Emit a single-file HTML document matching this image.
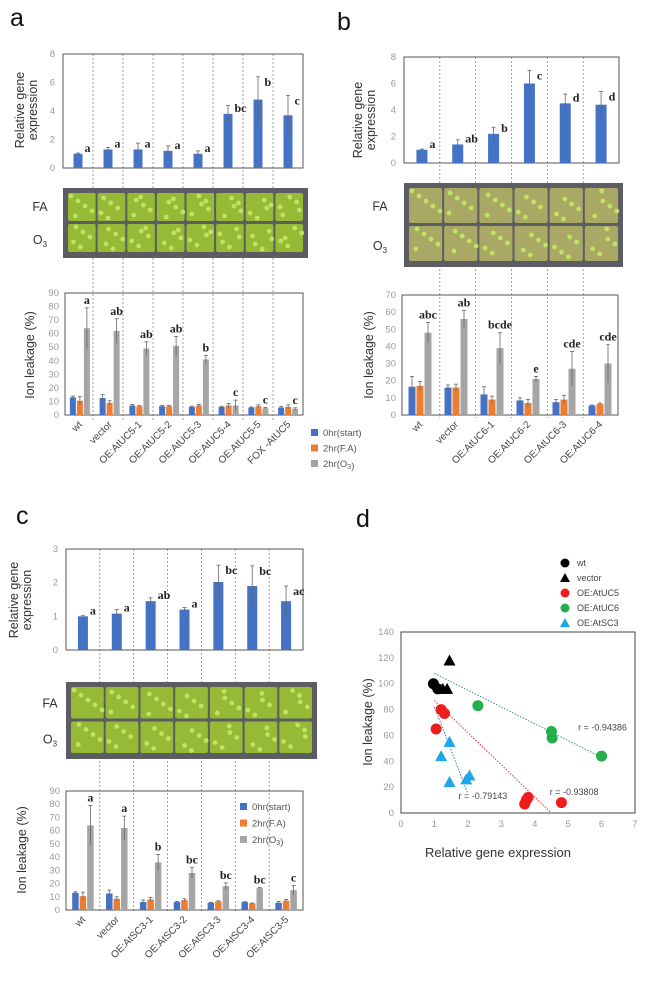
<!DOCTYPE html>
<html><head><meta charset="utf-8">
<style>
html,body{margin:0;padding:0;background:#fff;}
svg{display:block;font-family:"Liberation Sans",sans-serif;}
.tick{fill:#9a9a9a;font-size:9.5px;}
.ttl{fill:#333;font-size:12.5px;}
.lbl{fill:#444;font-size:10px;}
.let{fill:#222;font-size:12px;font-weight:bold;font-family:"Liberation Serif",serif;}
.pan{fill:#111;font-size:25px;}
</style></head>
<body>
<svg id="fig" width="652" height="983" viewBox="0 0 652 983" xmlns="http://www.w3.org/2000/svg">
<text class="pan" x="10" y="26">a</text>
<text class="pan" x="337" y="30">b</text>
<text class="pan" x="16" y="524">c</text>
<text class="pan" x="356" y="527">d</text>
<g id="layer"></g>
</svg>
<script>
// ---- Panel a data ----
const aCats = ["wt","vector","OE:AtUC5-1","OE:AtUC5-2","OE:AtUC5-3","OE:AtUC5-4","OE:AtUC5-5","FOX -AtUC5"];
const aExpr = [1.0,1.3,1.3,1.2,1.0,3.8,4.8,3.7];
const aExprErr = [0.05,0.15,0.45,0.35,0.2,0.6,1.6,1.4];
const aExprLet = ["a","a","a","a","a","bc","b","c"];
const aIon0 = [13,12.5,7,6.5,6,6,5.5,5.5];
const aIonFA = [10.5,9,6.5,6.5,7,7,6.5,6];
const aIonO3 = [64,62,49,51,41,7,5,4.5];
const aErr0 = [1,2.5,0.8,0.5,0.5,0.5,0.4,0.8];
const aErrFA = [3,1.5,0.5,0.5,0.8,1.5,1,1.5];
const aErrO3 = [15,9,5,7,3,4,0.5,0.8];
const aIonLet = ["a","ab","ab","ab","b","c","c","c"];
// ---- Panel b data ----
const bCats = ["wt","vector","OE:AtUC6-1","OE:AtUC6-2","OE:AtUC6-3","OE:AtUC6-4"];
const bExpr = [1.0,1.4,2.2,6.0,4.5,4.4];
const bExprErr = [0.05,0.35,0.5,1.0,0.7,1.0];
const bExprLet = ["a","ab","b","c","d","d"];
const bIon0 = [16.5,16,12,8.5,7.5,5.5];
const bIonFA = [17,16,9,7,9,6.5];
const bIonO3 = [48,56,39,21,27,30];
const bErr0 = [6,1.5,4.5,1.5,1.5,0.3];
const bErrFA = [2.5,2,2,2,2.5,0.5];
const bErrO3 = [6,5,9,1.5,10,11];
const bIonLet = ["abc","ab","bcde","e","cde","cde"];
// ---- Panel c data ----
const cCats = ["wt","vector","OE:AtSC3-1","OE:AtSC3-2","OE:AtSC3-3","OE:AtSC3-4","OE:AtSC3-5"];
const cExpr = [1.0,1.08,1.45,1.2,2.02,1.9,1.45];
const cExprErr = [0.02,0.12,0.1,0.06,0.5,0.6,0.45];
const cExprLet = ["a","a","ab","a","bc","bc","ac"];
const cIon0 = [13,12.5,6,6,5.5,6,5.5];
const cIonFA = [10.5,8.5,8,7.5,6.5,5,7];
const cIonO3 = [64,62,36,28,18,16.5,15];
const cErr0 = [0.8,2.5,1.5,0.5,0.3,0.3,1];
const cErrFA = [3,1.5,1.5,1,0.5,0.3,1];
const cErrO3 = [15,9,6,4,2.5,0.5,3.5];
const cIonLet = ["a","a","b","bc","bc","bc","c"];
// ---- Panel d data ----
const dWtX = [0.97,1.1]; const dWtY = [100,96];
const dVecX = [1.45,1.25,1.38]; const dVecY = [118,96,96];
const dUC5X = [1.2,1.3,1.05,3.7,3.8,3.75,4.8]; const dUC5Y = [80,77,65,7,12,10,8];
const dUC6X = [2.3,4.5,4.52,6.0]; const dUC6Y = [83,63,58,44];
const dSC3X = [1.45,1.2,1.45,1.95,2.05]; const dSC3Y = [55,44,24,26,29];
const dFitUC6 = [1,108,6,43]; const dFitUC5 = [1,87,4.5,0]; const dFitSC3 = [1,82,2,15];
const dR = ["r = -0.94386","r = -0.93808","r = -0.79143"];

const NS="http://www.w3.org/2000/svg";
const L=document.getElementById('layer');
function mk(t,a,p){const e=document.createElementNS(NS,t);for(const k in a)e.setAttribute(k,a[k]);(p||L).appendChild(e);return e;}
const BLUE="#4472c4",ORANGE="#ed7d31",GRAY="#a5a5a5";

function exprChart(cfg,vals,errs,lets){
  const {x0,x1,y0,y1,max,step,name}=cfg;
  const g=mk('g',{});  
  const n=vals.length, gw=(x1-x0)/n;
  const ys=v=>y1-(v/max)*(y1-y0);
  mk('rect',{x:x0,y:y0,width:x1-x0,height:y1-y0,fill:'none',stroke:'#555','stroke-width':1},g);
  for(let t=0;t<=max;t+=step){const tx=mk('text',{x:x0-8,y:ys(t)+3,'text-anchor':'end',class:'tick'},g);tx.textContent=t;}
  vals.forEach((v,i)=>{
    const cx=x0+gw*(i+0.5), bw=cfg.bw;
    const r=mk('rect',{x:cx-bw/2,y:ys(v),width:bw,height:ys(0)-ys(v),fill:BLUE},g);
     
    const e=errs[i];
    mk('line',{x1:cx,x2:cx,y1:ys(v-e),y2:ys(v+e),stroke:'#666','stroke-width':0.8},g);
    mk('line',{x1:cx-2,x2:cx+2,y1:ys(v+e),y2:ys(v+e),stroke:'#666','stroke-width':0.8},g);
    const t=mk('text',{x:cx+bw/2+2,y:Math.min(ys(v+e)+9,ys(v)-2),class:'let'},g); t.textContent=lets[i];
  });
}
function ionChart(cfg,s0,s1,s2,e0,e1,e2,lets,cats){
  const {x0,x1,y0,y1,max,step,name}=cfg;
  const g=mk('g',{});  
  const n=s0.length, gw=(x1-x0)/n;
  const ys=v=>y1-(v/max)*(y1-y0);
  mk('rect',{x:x0,y:y0,width:x1-x0,height:y1-y0,fill:'none',stroke:'#555','stroke-width':1},g);
  for(let t=0;t<=max;t+=step){const tx=mk('text',{x:x0-6,y:ys(t)+3,'text-anchor':'end',class:'tick'},g);tx.textContent=t;}
  const series=[[s0,e0,BLUE],[s1,e1,ORANGE],[s2,e2,GRAY]];
  for(let i=0;i<n;i++){
    const cx=x0+gw*(i+0.5), bw=cfg.bw, gap=1;
    series.forEach((s,k)=>{
      const v=s[0][i], e=s[1][i], bx=cx+(k-1)*(bw+gap);
      const r=mk('rect',{x:bx-bw/2,y:ys(v),width:bw,height:ys(0)-ys(v),fill:s[2]},g);
       
      mk('line',{x1:bx,x2:bx,y1:ys(Math.max(0,v-e)),y2:ys(v+e),stroke:'#666','stroke-width':0.8},g);
      mk('line',{x1:bx-2,x2:bx+2,y1:ys(v+e),y2:ys(v+e),stroke:'#666','stroke-width':0.8},g);
      if(k==2){const t=mk('text',{x:bx,y:ys(v+e)-4,'text-anchor':'middle',class:'let'},g);t.textContent=lets[i];}
    });
    const lx=cx+3, ly=y1+10;
    const t=mk('text',{x:lx,y:ly,'text-anchor':'end',class:'lbl',transform:`rotate(-45 ${lx} ${ly})`},g);
    t.textContent=cats[i];
     
  }
}
function dashes(x0,x1,n,ya,yb){
  const gw=(x1-x0)/n;
  for(let i=1;i<n;i++){const l=mk('line',{x1:x0+gw*i,x2:x0+gw*i,y1:ya,y2:yb,stroke:'#777','stroke-width':0.7,'stroke-dasharray':'2,2'});
     }
}
function photo(x,y,w,h,n,name,lx){
  const g=mk('g',{});  
  mk('rect',{x:x,y:y,width:w,height:h,fill:'#5b5d62'},g);
  const cw=(w-8)/n;
  for(let r=0;r<2;r++)for(let i=0;i<n;i++){
    const cx=x+4+i*cw, cy=y+4+r*(h-8)/2;
    mk('rect',{x:cx+1,y:cy+1,width:cw-2,height:(h-8)/2-3,fill:name==='b'?'#aaa865':'#96ba36',rx:2},g);
    for(let k=0;k<5;k++) mk('circle',{cx:cx+4+((k*7+i*3+r*5)%(cw-6)),cy:cy+4+((k*5+i*2)%((h-8)/2-8)),r:2.4,fill:'#bfe362'},g);
  }
  let t=mk('text',{x:lx,y:y+h*0.33,class:'ttl','text-anchor':'middle'},g);t.textContent='FA';
  t=mk('text',{x:lx,y:y+h*0.8,class:'ttl','text-anchor':'middle'},g);t.innerHTML='O<tspan font-size="8" dy="3">3</tspan>';
}
function vtitle(x,y,lines,size,name){
  const t=mk('text',{x:x,y:y,'text-anchor':'middle',class:'ttl',transform:`rotate(-90 ${x} ${y})`,'font-size':size});
  lines.forEach((s,i)=>{const ts=mk('tspan',{x:x,dy:i?size*1.05:0},t);ts.textContent=s;});
   
}
function legend(x,y,gap){
  const g=mk('g',{});  
  [[BLUE,'0hr(start)'],[ORANGE,'2hr(F.A)'],[GRAY,'2hr(O<tspan font-size="7" dy="2">3</tspan>)']].forEach((it,i)=>{
    mk('rect',{x:x,y:y+i*gap-4,width:7,height:7,fill:it[0]},g);
    const t=mk('text',{x:x+12,y:y+i*gap+3,'font-size':9.5,fill:'#555'},g);t.innerHTML=it[1];
     
  });
}
// Panel a
dashes(63,303,8,54,420);
photo(63,188,245,70,8,'a',40);
exprChart({x0:63,x1:303,y0:54,y1:168,max:8,step:2,bw:9,name:'a'},aExpr,aExprErr,aExprLet);
ionChart({x0:65,x1:303,y0:293,y1:415,max:90,step:10,bw:6,name:'a'},aIon0,aIonFA,aIonO3,aErr0,aErrFA,aErrO3,aIonLet,aCats);
vtitle(24,110,['Relative gene','expression'],12.5,'a-expression-y-title');
vtitle(34,355,['Ion leakage (%)'],13,'a-ion-y-title');
legend(311,433,15.5);
// Panel b
dashes(404,619,6,57,418);
photo(404,183,219,84,6,'b',380);
exprChart({x0:404,x1:619,y0:57,y1:163,max:8,step:2,bw:11,name:'b'},bExpr,bExprErr,bExprLet);
ionChart({x0:402,x1:618,y0:295,y1:415,max:70,step:10,bw:7,name:'b'},bIon0,bIonFA,bIonO3,bErr0,bErrFA,bErrO3,bIonLet,bCats);
vtitle(362,120,['Relative gene','expression'],12.5,'b-expression-y-title');
vtitle(373,355,['Ion leakage (%)'],13,'b-ion-y-title');
// Panel c
dashes(66,303,7,549,912);
photo(66,682,251,77,7,'c',50);
exprChart({x0:66,x1:303,y0:549,y1:650,max:3,step:1,bw:10,name:'c'},cExpr,cExprErr,cExprLet);
ionChart({x0:66,x1:303,y0:791,y1:910,max:90,step:10,bw:6.5,name:'c'},cIon0,cIonFA,cIonO3,cErr0,cErrFA,cErrO3,cIonLet,cCats);
vtitle(18,600,['Relative gene','expression'],12.5,'c-expression-y-title');
vtitle(26,850,['Ion leakage (%)'],13,'c-ion-y-title');
legend(240,807,16.5);
// Panel d
(function(){
  const x0=401,x1=635,y0=632,y1=813;
  const xs=v=>x0+v/7*(x1-x0), ys=v=>y1-v/140*(y1-y0);
  const g=mk('g',{});  
  mk('rect',{x:x0,y:y0,width:x1-x0,height:y1-y0,fill:'none',stroke:'#444','stroke-width':1},g);
  for(let t=0;t<=140;t+=20){const tx=mk('text',{x:x0-7,y:ys(t)+3,'text-anchor':'end',class:'tick'},g);tx.textContent=t;}
  for(let t=0;t<=7;t++){const tx=mk('text',{x:xs(t),y:y1+14,'text-anchor':'middle',class:'tick'},g);tx.textContent=t;}
  const fits=[[dFitUC6,'#2e9e6a'],[dFitUC5,'#e83030'],[dFitSC3,'#2e7bc4']];
  fits.forEach(f=>{const l=mk('line',{x1:xs(f[0][0]),y1:ys(f[0][1]),x2:xs(f[0][2]),y2:ys(f[0][3]),stroke:f[1],'stroke-width':1,'stroke-dasharray':'1.5,1.5'},g);
     });
  function pts(X,Y,col,tri){X.forEach((x,i)=>{const cx=xs(x),cy=ys(Y[i]);let p;
    if(tri)p=mk('polygon',{points:`${cx},${cy-6} ${cx-6},${cy+5} ${cx+6},${cy+5}`,fill:col},g);
    else p=mk('circle',{cx:cx,cy:cy,r:5.5,fill:col},g);
     });}
  pts(dWtX,dWtY,'#000',false);pts(dVecX,dVecY,'#000',true);pts(dUC5X,dUC5Y,'#ee1c1c',false);
  pts(dUC6X,dUC6Y,'#22b04c',false);pts(dSC3X,dSC3Y,'#1fa6e8',true);
  [[5.3,64,dR[0]],[4.45,14,dR[1]],[1.72,11,dR[2]]].forEach(r=>{const t=mk('text',{x:xs(r[0]),y:ys(r[1]),'font-size':9,fill:'#444'},g);t.textContent=r[2];});
  let t=mk('text',{x:498,y:857,'text-anchor':'middle','font-size':13,fill:'#333'},g);t.textContent='Relative gene expression';
   
  vtitle(372,722,['Ion leakage (%)'],13,'d-y-axis-title');
  const lg=mk('g',{});  
  [['#000',false,'wt'],['#000',true,'vector'],['#ee1c1c',false,'OE:AtUC5'],['#22b04c',false,'OE:AtUC6'],['#1fa6e8',true,'OE:AtSC3']].forEach((it,i)=>{
    const cx=565, cy=563+i*15;
    if(it[1])mk('polygon',{points:`${cx},${cy-5} ${cx-5},${cy+4} ${cx+5},${cy+4}`,fill:it[0]},lg);
    else mk('circle',{cx:cx,cy:cy,r:4.5,fill:it[0]},lg);
    const tx=mk('text',{x:577,y:cy+3,'font-size':9,fill:'#444'},lg);tx.textContent=it[2];
     
  });
})();
</script>
</body></html>
